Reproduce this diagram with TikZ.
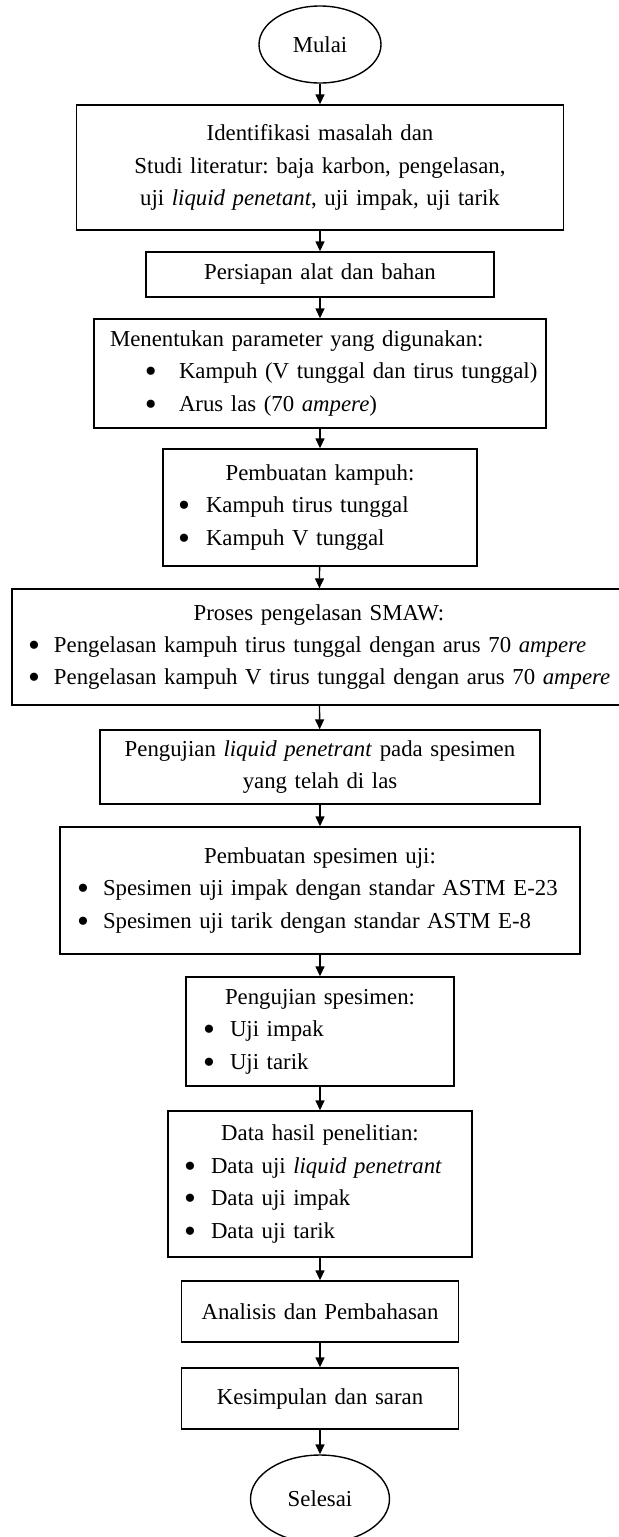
\documentclass[tikz,border=0pt]{standalone}
\usepackage{fontspec}
\setmainfont{Liberation Serif}
\usetikzlibrary{shapes.geometric, arrows.meta}
\frenchspacing
\newcommand{\Dot}{\raisebox{-2pt}{\fontsize{17pt}{0pt}\selectfont\textbullet}}
\newcommand{\Bul}[3]{\makebox[\linewidth][l]{\hspace*{#1}\makebox[#2][l]{\Dot}#3}}

\begin{document}
\begin{tikzpicture}[x=0.5pt, y=-0.5pt, font=\fontsize{11.4pt}{16.2pt}\selectfont,
  Terminal/.style={draw, ellipse, line width=0.7pt, inner sep=0pt},
  Process/.style={draw, rectangle, line width=0.7pt, align=center, inner xsep=5pt, inner ysep=0pt},
  Connection/.style={-{Triangle[length=5pt, width=4.5pt]}, line width=0.7pt}]

\useasboundingbox (0,0) rectangle (618,1537);

\node [Terminal, minimum width=61pt, minimum height=38.5pt] (start) at (320, 44.5) {Mulai};

\node [Process, text width=233.5pt, minimum height=62.5pt] (ident) at (320, 167.5)
  {Identifikasi masalah dan\\ Studi literatur: baja karbon, pengelasan,\\ uji \textit{liquid penetant}, uji impak, uji tarik};

\node [Process, text width=164pt, minimum height=22.5pt] (prep) at (320, 274.5) {Persiapan alat dan bahan};

\node [Process, text width=216pt, minimum height=54.5pt] (param) at (320, 373.5)
  {\makebox[\linewidth][l]{\hspace*{3pt}Menentukan parameter yang digunakan:}\\
   \Bul{20.5pt}{17pt}{Kampuh (V tunggal dan tirus tunggal)}\\
   \Bul{20.5pt}{17pt}{Arus las (70 \textit{ampere})}};

\node [Process, text width=147pt, minimum height=58.5pt] (groove) at (320, 507.5)
  {Pembuatan kampuh:\\
   \Bul{2.5pt}{14pt}{Kampuh tirus tunggal}\\
   \Bul{2.5pt}{14pt}{Kampuh V tunggal}};

\node [Process, text width=297pt, minimum height=58pt] (weld) at (319, 647)
  {Proses pengelasan SMAW:\\
   \Bul{3pt}{13pt}{Pengelasan kampuh tirus tunggal dengan arus 70 \textit{ampere}}\\
   \Bul{3pt}{13pt}{Pengelasan kampuh V tirus tunggal dengan arus 70 \textit{ampere}}};

\node [Process, text width=210pt, minimum height=37pt] (penetrant) at (320, 767)
  {Pengujian \textit{liquid penetrant} pada spesimen\\ yang telah di las};

\node [Process, text width=250pt, minimum height=63.5pt] (specimen) at (320, 890.5)
  {Pembuatan spesimen uji:\\
   \Bul{3.5pt}{13pt}{Spesimen uji impak dengan standar ASTM E-23}\\
   \Bul{3.5pt}{13pt}{Spesimen uji tarik dengan standar ASTM E-8}};

\node [Process, text width=124pt, minimum height=54.5pt] (testing) at (320, 1031.5)
  {Pengujian spesimen:\\
   \Bul{3.5pt}{13.5pt}{Uji impak}\\
   \Bul{3.5pt}{13.5pt}{Uji tarik}};

\node [Process, text width=142pt, minimum height=73pt] (data) at (320, 1184)
  {Data hasil penelitian:\\
   \Bul{3pt}{13.5pt}{Data uji \textit{liquid penetrant}}\\
   \Bul{3pt}{13.5pt}{Data uji impak}\\
   \Bul{3pt}{13.5pt}{Data uji tarik}};

\node [Process, text width=128.5pt, minimum height=30.5pt] (analysis) at (320, 1311.5) {Analisis dan Pembahasan};

\node [Process, text width=128.5pt, minimum height=30.5pt] (conclusion) at (320, 1398.5) {Kesimpulan dan saran};

\node [Terminal, minimum width=69.5pt, minimum height=44pt] (finish) at (320, 1499) {Selesai};

\foreach \a/\b in {start/ident, ident/prep, prep/param, param/groove, groove/weld, weld/penetrant,
  penetrant/specimen, specimen/testing, testing/data, data/analysis, analysis/conclusion, conclusion/finish} {
  \draw [Connection] (\a) -- (\b);
}
\end{tikzpicture}
\end{document}
